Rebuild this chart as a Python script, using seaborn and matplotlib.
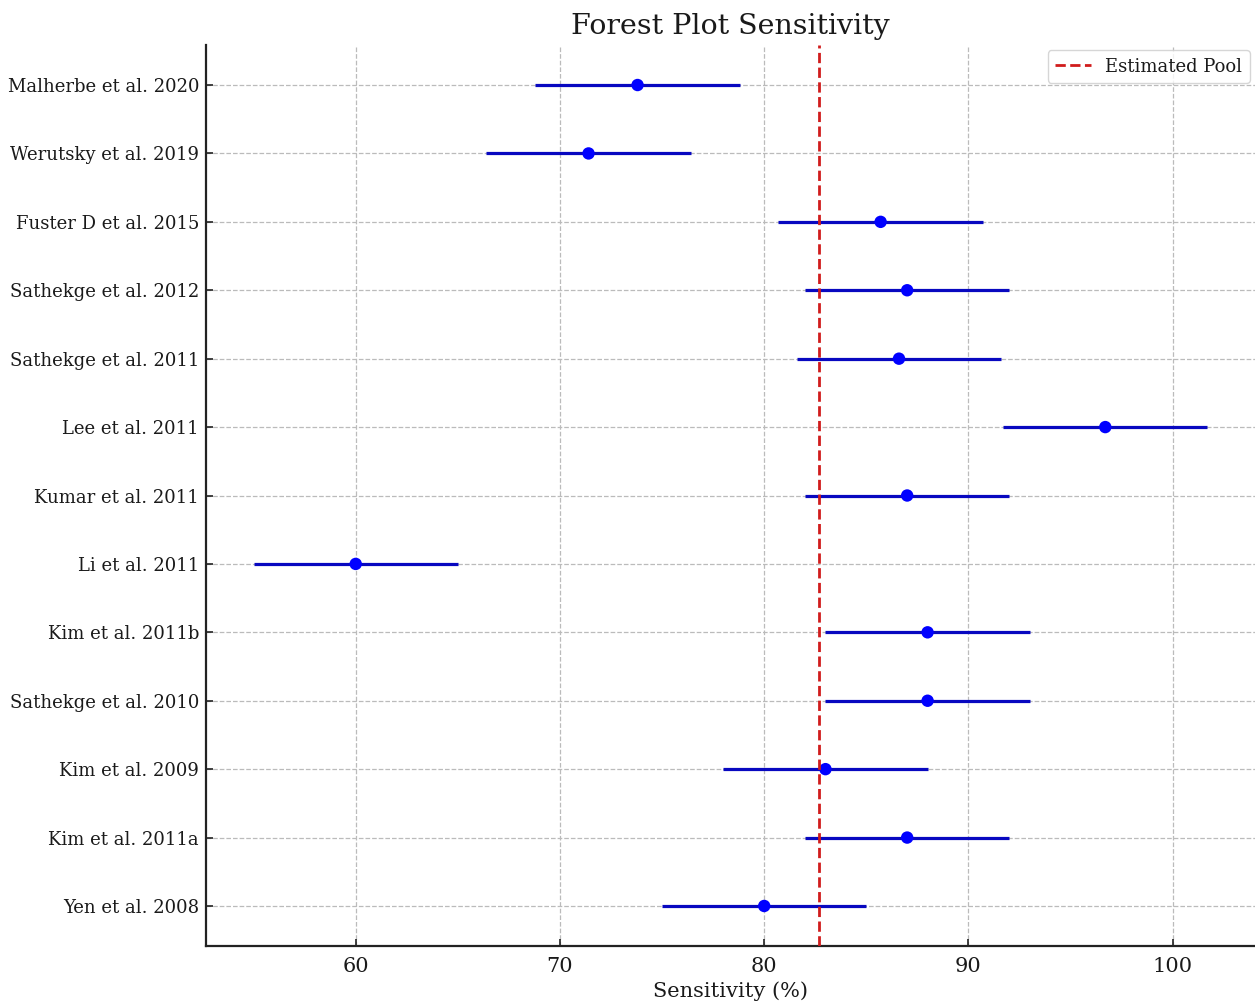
import matplotlib
matplotlib.use("Agg")
import matplotlib.pyplot as plt
import seaborn as sns
import pandas as pd
import numpy as np

# Data
studies = [
    "Malherbe et al. 2020", "Werutsky et al. 2019", "Fuster D et al. 2015",
    "Sathekge et al. 2012", "Sathekge et al. 2011", "Lee et al. 2011",
    "Kumar et al. 2011", "Li et al. 2011", "Kim et al. 2011b",
    "Sathekge et al. 2010", "Kim et al. 2009", "Kim et al. 2011a",
    "Yen et al. 2008",
]
sensitivity = [73.8, 71.4, 85.7, 87.0, 86.6, 96.7, 87.0, 60.0, 88.0, 88.0, 83.0, 87.0, 80.0]
ci_lower = [68.8, 66.4, 80.7, 82.0, 81.6, 91.7, 82.0, 55.0, 83.0, 83.0, 78.0, 82.0, 75.0]
ci_upper = [78.8, 76.4, 90.7, 92.0, 91.6, 101.7, 92.0, 65.0, 93.0, 93.0, 88.0, 92.0, 85.0]
pooled = 82.7

df = pd.DataFrame({"study": studies, "sens": sensitivity,
                   "lo": ci_lower, "hi": ci_upper})
df["pos"] = np.arange(len(df))[::-1]

sns.set_style("whitegrid")
plt.rcParams['font.family'] = ['DejaVu Serif']
plt.rcParams['text.color'] = '#1a1a1a'
plt.rcParams['axes.labelcolor'] = '#1a1a1a'

fig = plt.figure(figsize=(12.55, 10.02), dpi=100)
ax = fig.add_axes([206/1255, 56/1002, 1049/1255, 901/1002])

ax.hlines(df["pos"], df["lo"], df["hi"], color="#0808c0", linewidth=2.3, zorder=2)
sns.scatterplot(data=df, x="sens", y="pos", color="#0000ff", s=80,
                edgecolor="none", zorder=3, ax=ax)
ax.axvline(pooled, color="#d01c1c", linestyle="--", linewidth=2,
           label="Estimated Pool", zorder=4)

ax.set_xlim(52.67, 104.03)
ax.set_ylim(-0.585, 12.585)
ax.set_yticks(df["pos"])
ax.set_yticklabels(df["study"], fontsize=13)
ax.tick_params(left=True, bottom=True)
ax.tick_params(axis="x", labelsize=15, pad=8)
ax.tick_params(axis="y", pad=5)
ax.tick_params(direction="in", length=5, width=1.2, color="#222222",
               labelcolor="#1a1a1a")
ax.grid(True, linestyle="--", color="#bbbbbb", linewidth=0.9)

ax.set_title("Forest Plot Sensitivity", fontsize=20.5, pad=8)
ax.set_xlabel("Sensitivity (%)", fontsize=15, labelpad=4)
ax.set_ylabel("")

for s in ["top", "right"]:
    ax.spines[s].set_visible(False)
for s in ["left", "bottom"]:
    ax.spines[s].set_color("#222222")
    ax.spines[s].set_linewidth(1.6)

ax.legend(loc="upper right", fontsize=13, frameon=True, borderaxespad=0.3)

fig.savefig("out.png", dpi=100)
